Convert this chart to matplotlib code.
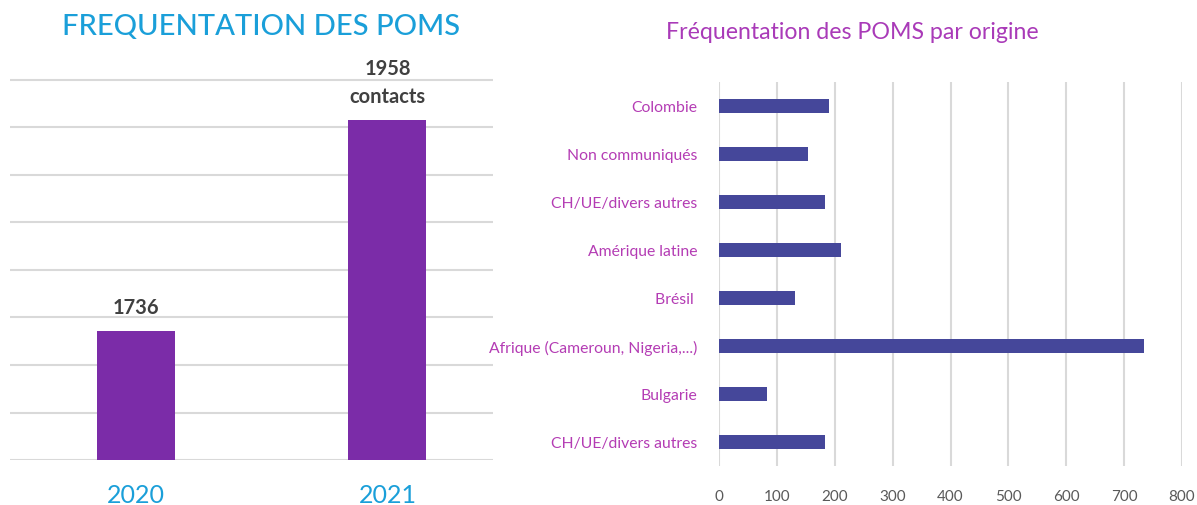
import matplotlib
matplotlib.use("Agg")
import matplotlib.pyplot as plt

# left chart
years = ["2020", "2021"]
contacts = [1736, 1958]
value_labels = ["1736", "1958\ncontacts"]

# right chart
origines = ["Colombie", "Non communiqués", "CH/UE/divers autres", "Amérique latine",
            "Brésil ", "Afrique (Cameroun, Nigeria,...)", "Bulgarie", "CH/UE/divers autres"]
effectifs = [190, 154, 183, 210, 131, 735, 83, 183]
xticks_right = [0, 100, 200, 300, 400, 500, 600, 700, 800]

plt.rcParams["font.family"] = ["Lato", "DejaVu Sans"]

fig = plt.figure(figsize=(11.97, 5.06), dpi=100)

# ---- gauche
ax1 = fig.add_axes([0.00835, 0.0889, 0.4035, 0.755])
x = range(len(years))
ax1.bar(x, contacts, width=0.31, color="#7B2CA8", zorder=3)
ax1.set_ylim(1600, 2002)
ax1.set_xlim(-0.502, 1.42)
ax1.set_yticks(range(1600, 2001, 50))
ax1.yaxis.grid(True, color="#D9D9D9", linewidth=1.5, zorder=0)
ax1.tick_params(left=False, labelleft=False, bottom=False, labelbottom=False)
for s in ax1.spines.values():
    s.set_visible(False)
for i, (v, lab) in enumerate(zip(contacts, value_labels)):
    ax1.annotate(lab, (i, v), xytext=(0, 10), textcoords="offset points",
                 ha="center", va="bottom", fontsize=14.5, fontweight="bold",
                 color="#404040", linespacing=1.5)
for i, y in enumerate(years):
    ax1.annotate(y, (i, 1600), xytext=(0, -25), textcoords="offset points",
                 ha="center", va="center", fontsize=18, color="#1A9FD9",
                 annotation_clip=False)
fig.text(0.218, 0.946, "FREQUENTATION DES POMS", ha="center", va="center",
         fontsize=21, color="#1A9FD9", fontweight="medium")

# ---- droite
ax2 = fig.add_axes([0.6007, 0.0771, 0.3868, 0.7589])
pos = range(len(origines))
ax2.barh(pos, effectifs, height=0.31, color="#45479A", zorder=3)
ax2.set_xlim(0, 800)
ax2.set_ylim(7.5, -0.5)
ax2.set_xticks(xticks_right)
ax2.set_yticks(list(pos))
ax2.set_yticklabels(origines, fontsize=11.3, color="#B43CB4")
ax2.set_xticklabels([str(t) for t in xticks_right], fontsize=11, color="#595959")
ax2.xaxis.grid(True, color="#D9D9D9", linewidth=1.5, zorder=0)
ax2.tick_params(left=False, bottom=False)
ax2.tick_params(axis="x", pad=13)
ax2.tick_params(axis="y", pad=12)
for s in ax2.spines.values():
    s.set_visible(False)
fig.text(0.712, 0.935, "Fréquentation des POMS par origine", ha="center", va="center",
         fontsize=16.7, color="#A93AB8")

fig.savefig("out.png", dpi=100)
